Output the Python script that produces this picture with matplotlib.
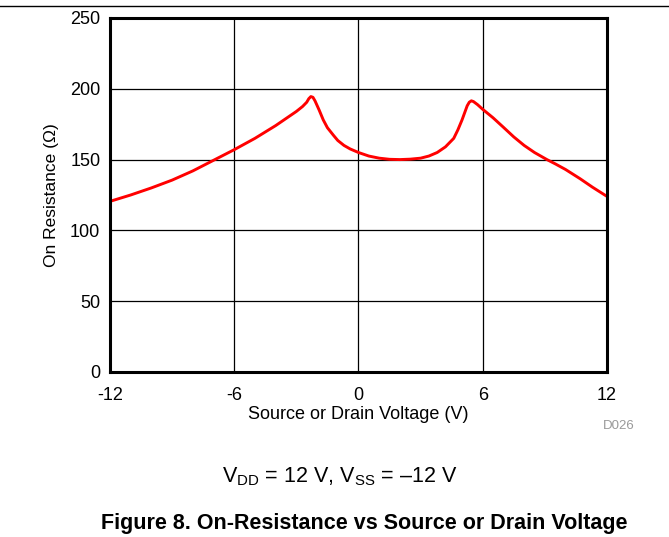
import matplotlib.pyplot as plt
from matplotlib.lines import Line2D

plt.rcParams['font.family'] = ['Liberation Sans', 'DejaVu Sans']
plt.rcParams['mathtext.fontset'] = 'custom'
plt.rcParams['mathtext.rm'] = 'Liberation Sans'

# values
voltage = [-12, -11, -10, -9, -8, -7, -6, -5.5, -5, -4.5, -4, -3.5, -3, -2.7, -2.5,
           -2.4, -2.3, -2.2, -2.1, -1.9, -1.7, -1.5, -1.2, -1.0, -0.7, -0.4, 0,
           0.5, 1.0, 1.5, 2.0, 2.5, 3.0, 3.4, 3.8, 4.2, 4.6, 4.8, 5.0, 5.1, 5.25,
           5.35, 5.45, 5.55, 5.75, 6.0, 6.5, 7.0, 7.5, 8.0, 8.5, 9.1, 9.5, 10,
           10.7, 11.3, 12]
resistance = [120.5, 125, 130, 135.5, 142, 149.5, 157, 161, 165, 169.5, 174, 179,
              184, 187.5, 190.5, 193, 194.5, 194, 191.5, 185, 178, 172.5, 167,
              163.5, 160, 157.5, 155, 152.5, 151, 150.2, 150, 150.3, 151, 152.5,
              155, 159, 165, 171, 178, 182, 188, 190.5, 191.5, 191, 188.8, 185.5,
              179.5, 172.8, 166, 160, 155, 150, 147, 143, 136.5, 130.5, 124]

x_ticks = [-12, -6, 0, 6, 12]
y_ticks = [0, 50, 100, 150, 200, 250]

fig = plt.figure(figsize=(6.69, 5.37), dpi=100)
ax = fig.add_axes([0.1644, 0.3073, 0.7429, 0.6592])

ax.plot(voltage, resistance, color='#ff0000', lw=2.1,
        solid_capstyle='round', solid_joinstyle='round')

ax.set_xlim(-12, 12)
ax.set_ylim(0, 250)
ax.set_xticks(x_ticks)
ax.set_yticks(y_ticks)
ax.set_xticklabels([str(t) for t in x_ticks])
ax.grid(True, color='black', lw=0.9)
ax.set_axisbelow(True)
ax.tick_params(length=0, labelsize=13, pad=11)
ax.tick_params(axis='y', pad=7)
for s in ax.spines.values():
    s.set_linewidth(2.2)

ax.set_xlabel('Source or Drain Voltage (V)', fontsize=13, labelpad=1)
ax.set_ylabel('On Resistance (Ω)', fontsize=12.5, labelpad=8)

fig.text(0.949, 0.207, 'D026', fontsize=9.5, color='#999999', ha='right', va='center')
fig.text(0.508, 0.112, 'V$_\\mathregular{DD}$ = 12 V, V$_\\mathregular{SS}$ = \u201312 V',
         fontsize=15.5, ha='center', va='center')
fig.text(0.545, 0.026, 'Figure 8. On-Resistance vs Source or Drain Voltage',
         fontsize=15.5, fontweight='bold', ha='center', va='center')

fig.add_artist(Line2D([0, 1], [0.988, 0.988], color='black', lw=1.0))

fig.savefig('out.png', dpi=100)
